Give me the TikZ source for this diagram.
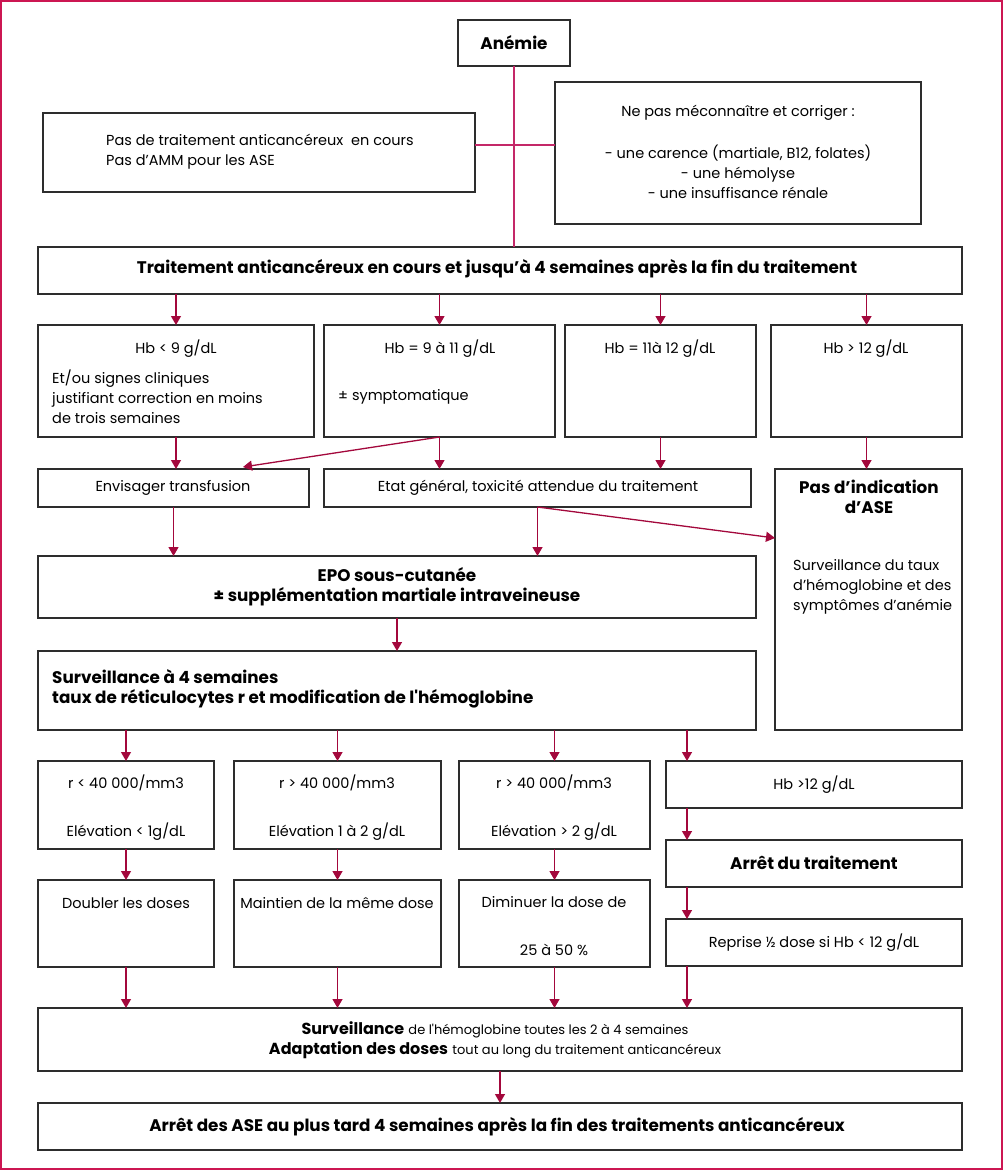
\documentclass[tikz,border=0pt]{standalone}
\usepackage{fontspec}
\setmainfont{Poppins}
\usetikzlibrary{arrows.meta}
\definecolor{framec}{RGB}{204,22,82}
\definecolor{arrc}{RGB}{163,8,60}
\definecolor{linc}{RGB}{196,40,104}
\definecolor{boxc}{RGB}{45,45,45}
\newcommand\bx[5]{\node[box, minimum width={#4-#2}, minimum height={#5-#3}] (#1) at ({(#2+#4)/2},{(#3+#5)/2}) {};}
\begin{document}
\begin{tikzpicture}[x=1pt,y=-1pt,
  box/.style={draw=boxc, line width=1.3pt, inner sep=0pt, outer sep=0pt, fill=white},
  txt/.style={inner sep=0pt, font=\fontsize{14.5}{20}\selectfont, align=center},
  ltxt/.style={txt, anchor=west, align=left},
  btxt/.style={txt, font=\fontsize{16.8}{20}\selectfont\bfseries},
  arrow/.style={draw=arrc, line width=1.3pt, -{Triangle[length=9pt,width=10pt]}},
  plain/.style={draw=linc, line width=1.3pt}]
\useasboundingbox (0,0) rectangle (1004,1171);
\draw[framec, line width=2pt] (1,1) rectangle (1002,1169);
% boxes
\bx{anemie}{458}{20}{570}{66}
\bx{pas}{43}{113}{475}{192}
\bx{nepas}{555}{82}{921}{224}
\bx{trait}{38}{247}{962}{294}
\bx{hba}{38}{325}{314}{437}
\bx{hbb}{324}{325}{555}{437}
\bx{hbc}{565}{325}{756}{437}
\bx{hbd}{771}{325}{962}{437}
\bx{env}{38}{469}{309}{507}
\bx{etat}{324}{469}{751}{507}
\bx{pasind}{775}{469}{962}{730}
\bx{epo}{38}{556}{756}{618}
\bx{surv}{38}{651}{756}{730}
\bx{ra}{38}{761}{214}{849}
\bx{rb}{234}{761}{441}{849}
\bx{rc}{459}{761}{650}{849}
\bx{hbe}{666}{761}{962}{808}
\bx{arret}{666}{840}{962}{887}
\bx{reprise}{666}{919}{962}{966}
\bx{da}{38}{880}{214}{967}
\bx{db}{234}{880}{441}{967}
\bx{dc}{459}{880}{650}{967}
\bx{surv2}{38}{1008}{962}{1071}
\bx{fin}{38}{1103}{962}{1150}
% texts
\node[btxt] (tanemie) at (514,43) {Anémie};
\node[ltxt] (tpas) at (106,152) {Pas de traitement anticancéreux \ en cours\\Pas d’AMM pour les ASE};
\node[txt] (tnepas1) at (738,113) {Ne pas méconnaître et corriger :};
\node[txt] (tnepas2) at (738,172) {- une carence (martiale, B12, folates)\\- une hémolyse\\- une insuffisance rénale};
\node[btxt] (ttrait) at (497,269) {Traitement anticancéreux en cours et jusqu’à 4 semaines après la fin du traitement};
\node[txt] (thba) at (176,349) {Hb < 9 g/dL};
\node[ltxt] (thba2) at (52,397) {Et/ou signes cliniques\\justifiant correction en moins\\de trois semaines};
\node[txt] (thbb) at (440,349) {Hb = 9 à 11 g/dL};
\node[ltxt] (thbb2) at (338,397) {± symptomatique};
\node[txt] (thbc) at (660,349) {Hb = 11à 12 g/dL};
\node[txt] (thbd) at (866,349) {Hb > 12 g/dL};
\node[txt] (tenv) at (173,488) {Envisager transfusion};
\node[txt] (tetat) at (538,488) {Etat général, toxicité attendue du traitement};
\node[btxt] (tpasind) at (869,497) {Pas d’indication\\d’ASE};
\node[ltxt] (tpasind2) at (793,587) {Surveillance du taux\\d’hémoglobine et des\\symptômes d’anémie};
\node[btxt] (tepo) at (397,587) {EPO sous-cutanée\\± supplémentation martiale intraveineuse};
\node[btxt, anchor=west, align=left] (tsurv) at (52,689) {Surveillance à 4 semaines\\taux de réticulocytes r et modification de l\textquotesingle hémoglobine};
\node[txt] (tra1) at (126,783) {r < 40 000/mm3};
\node[txt] (tra2) at (126,832) {Elévation < 1g/dL};
\node[txt] (trb1) at (337,783) {r > 40 000/mm3};
\node[txt] (trb2) at (337,832) {Elévation 1 à 2 g/dL};
\node[txt] (trc1) at (554,783) {r > 40 000/mm3};
\node[txt] (trc2) at (554,832) {Elévation > 2 g/dL};
\node[txt] (thbe) at (814,785) {Hb >12 g/dL};
\node[btxt] (tarret) at (814,863) {Arrêt du traitement};
\node[txt] (treprise) at (814,943) {Reprise ½ dose si Hb < 12 g/dL};
\node[txt] (tda) at (126,903) {Doubler les doses};
\node[txt] (tdb) at (337,903) {Maintien de la même dose};
\node[txt] (tdc1) at (554,902) {Diminuer la dose de};
\node[txt] (tdc2) at (554,950) {25 à 50 \%};
\node[txt, font=\fontsize{16}{20}\selectfont] (tsurv2) at (495,1040) {\textbf{Surveillance} {\fontsize{13}{20}\selectfont de l\textquotesingle hémoglobine toutes les 2 à 4 semaines}\\\textbf{Adaptation des doses} {\fontsize{13}{20}\selectfont tout au long du traitement anticancéreux}};
\node[btxt] (tfin) at (497,1127) {Arrêt des ASE au plus tard 4 semaines après la fin des traitements anticancéreux};
% helper coordinates
\coordinate (hl) at (515,145);
\coordinate (envtip) at (243,467);
\coordinate (pastip) at (775,538);
\coordinate (xr) at (687,0);
% plain lines
\draw[plain] (anemie.south) -- (anemie.south |- trait.north);
\draw[plain] (pas.east |- hl) -- (nepas.west |- hl);
% arrows
\foreach \b in {hba,hbb,hbc,hbd} \draw[arrow] (\b.north |- trait.south) -- (\b.north);
\draw[arrow] (hba.south) -- (hba.south |- env.north);
\draw[arrow] (hbb.south) -- (hbb.south |- etat.north);
\draw[arrow] (hbb.south) -- (envtip);
\draw[arrow] (hbc.south) -- (hbc.south |- etat.north);
\draw[arrow] (hbd.south) -- (hbd.south |- pasind.north);
\draw[arrow] (env.south) -- (env.south |- epo.north);
\draw[arrow] (etat.south) -- (etat.south |- epo.north);
\draw[arrow] (etat.south) -- (pastip);
\draw[arrow] (epo.south) -- (surv.north);
\foreach \b in {ra,rb,rc} \draw[arrow] (\b.north |- surv.south) -- (\b.north);
\draw[arrow] (xr |- surv.south) -- (xr |- hbe.north);
\draw[arrow] (xr |- hbe.south) -- (xr |- arret.north);
\draw[arrow] (xr |- arret.south) -- (xr |- reprise.north);
\draw[arrow] (ra.south) -- (da.north);
\draw[arrow] (rb.south) -- (db.north);
\draw[arrow] (rc.south) -- (dc.north);
\foreach \b in {da,db,dc} \draw[arrow] (\b.south) -- (\b.south |- surv2.north);
\draw[arrow] (xr |- reprise.south) -- (xr |- surv2.north);
\draw[arrow] (surv2.south) -- (fin.north);
\end{tikzpicture}
\end{document}
